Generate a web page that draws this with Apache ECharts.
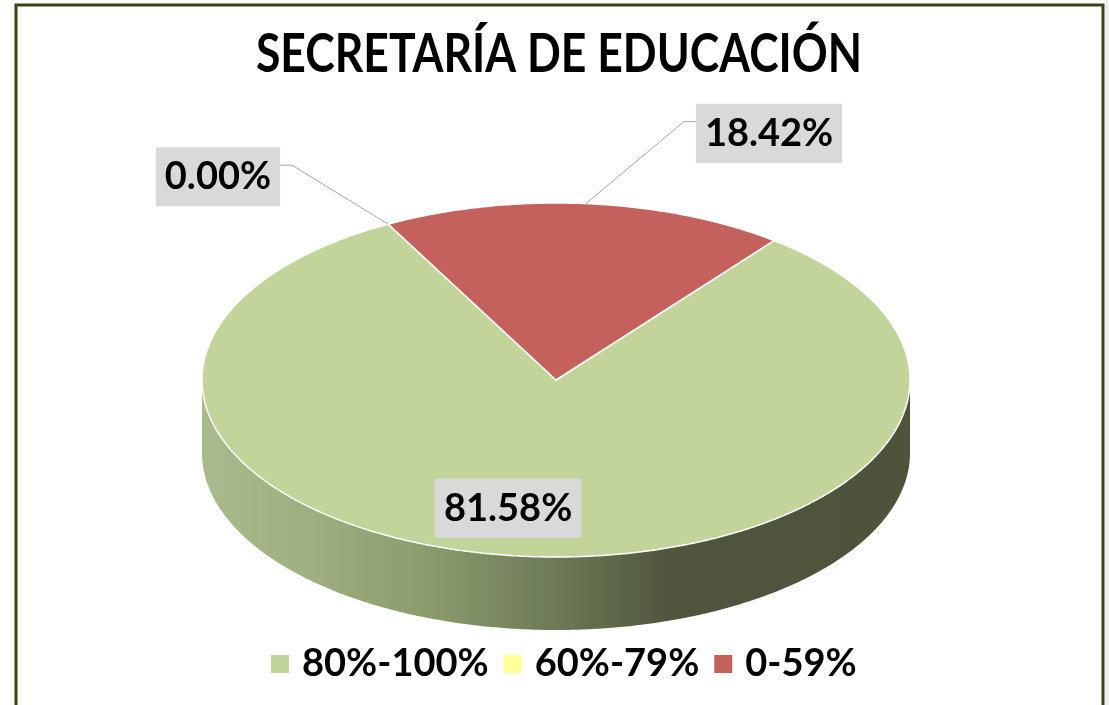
<!DOCTYPE html>
<html><head><meta charset="utf-8">
<script src="https://cdn.jsdelivr.net/npm/echarts@6/dist/echarts.min.js"></script>
<style>html,body{margin:0;padding:0;background:#fff}#c{width:1109px;height:705px}</style>
</head><body><div id="c"></div>
<script>
// ---- data ----
const titleText = 'SECRETARÍA DE EDUCACIÓN';
const categories = ['80%-100%', '60%-79%', '0-59%'];
const percentages = [81.58, 0.00, 18.42];

// ---- styles / layout ----
const sliceColors = ['#c3d49b', '#ffff99', '#c4615d'];
const PIE = {cx: 556, cy: 380, rx: 354, ry: 177, depth: 73, startDeg: 38};
const labelLayout = [
  {mode: 'inside', dx: -18, dy: -48},
  {mode: 'left', dx: -108, dy: -77},
  {mode: 'right', dx: 110, dy: -100}
];
const FONT = 'Lato, "Open Sans", sans-serif';

function rimPoint(deg, drop) {
  const r = deg * Math.PI / 180;
  return [PIE.cx + PIE.rx * Math.sin(r), PIE.cy - PIE.ry * Math.cos(r) + (drop || 0)];
}

function renderSlice(params, api) {
  const i = params.seriesIndex;
  const v = api.value(0);
  const total = percentages.reduce((a, b) => a + b, 0);
  let cum = 0;
  for (let k = 0; k < i; k++) cum += percentages[k];
  const a0 = PIE.startDeg + 360 * cum / total;
  const a1 = a0 + 360 * v / total;
  const color = sliceColors[i];
  const children = [];

  // visible side wall (front half)
  [[90, 270], [450, 630]].forEach(([L, R]) => {
    const s = Math.max(a0, L), e = Math.min(a1, R);
    if (e > s) {
      const top = [], bot = [];
      for (let a = s; a < e; a += 0.5) { top.push(rimPoint(a, 0)); bot.push(rimPoint(a, PIE.depth)); }
      top.push(rimPoint(e, 0)); bot.push(rimPoint(e, PIE.depth));
      children.push({
        type: 'polygon', z2: 1,
        shape: {points: top.concat(bot.reverse())},
        style: {
          fill: {type: 'linear', x: PIE.cx - PIE.rx, y: 0, x2: PIE.cx + PIE.rx, y2: 0, global: true,
            colorStops: [
              {offset: 0, color: '#abba8c'},
              {offset: 0.15, color: '#a0af80'},
              {offset: 0.32, color: '#8c9b6c'},
              {offset: 0.5, color: '#6d7957'},
              {offset: 0.66, color: '#50563e'},
              {offset: 1, color: '#4e533c'}
            ]},
          stroke: null
        }
      });
    }
  });

  // top face
  if (a1 > a0) {
    const pts = [[PIE.cx, PIE.cy]];
    for (let a = a0; a < a1; a += 0.5) pts.push(rimPoint(a, 0));
    pts.push(rimPoint(a1, 0));
    children.push({
      type: 'polygon', z2: 5, shape: {points: pts},
      style: {fill: color, stroke: '#ffffff', lineWidth: 1.5, lineJoin: 'round'}
    });
  }

  // label
  const mid = (a0 + a1) / 2;
  const anchor = rimPoint(mid, 0);
  const lay = labelLayout[i];
  const textStyle = {
    text: v.toFixed(2) + '%',
    font: 'bold 38px ' + FONT,
    fill: '#000', backgroundColor: '#d9d9d9',
    padding: [7, 9, 6, 9], lineHeight: 46
  };
  if (lay.mode === 'inside') {
    children.push({type: 'text', z2: 20, x: anchor[0] + lay.dx, y: anchor[1] + lay.dy,
      style: Object.assign({align: 'center', verticalAlign: 'middle'}, textStyle)});
  } else if (lay.mode === 'right') {
    const bx = anchor[0] + lay.dx, by = anchor[1] + lay.dy;
    children.push({type: 'polyline', z2: 15,
      shape: {points: [anchor, [bx - 12, by + 18], [bx, by + 18]]},
      style: {stroke: '#a6a6a6', lineWidth: 1, fill: null}});
    children.push({type: 'text', z2: 20, x: bx, y: by,
      style: Object.assign({align: 'left', verticalAlign: 'top'}, textStyle)});
  } else {
    const bx = anchor[0] + lay.dx, by = anchor[1] + lay.dy;
    children.push({type: 'polyline', z2: 15,
      shape: {points: [anchor, [bx + 12, by + 18], [bx, by + 18]]},
      style: {stroke: '#a6a6a6', lineWidth: 1, fill: null}});
    children.push({type: 'text', z2: 20, x: bx, y: by,
      style: Object.assign({align: 'right', verticalAlign: 'top'}, textStyle)});
  }
  return {type: 'group', children: children};
}

const chart = echarts.init(document.getElementById('c'), null, {renderer: 'canvas'});
chart.setOption({
  backgroundColor: '#ffffff',
  animation: false,
  legend: {
    data: categories, left: 266, top: 640,
    icon: 'rect', itemWidth: 18, itemHeight: 18, itemGap: 15,
    textStyle: {fontFamily: FONT, fontWeight: 'bold', fontSize: 38, color: '#000', padding: [0, 0, 0, 8]}
  },
  graphic: [
    {type: 'text', x: 559, y: 28, scaleX: 0.84, z: 50,
      style: {text: titleText, font: 'bold 53px ' + FONT, fill: '#000', align: 'center', verticalAlign: 'top'}},
    {type: 'rect', shape: {x: 16, y: 5, width: 1087, height: 720},
      style: {fill: null, stroke: '#3d4214', lineWidth: 3}, z: 100},
    {type: 'rect', shape: {x: 1105, y: 0, width: 4, height: 705},
      style: {fill: '#eeeeee'}, z: 100}
  ],
  series: categories.map((name, i) => ({
    type: 'custom', name: name, coordinateSystem: 'none',
    itemStyle: {color: sliceColors[i]},
    renderItem: renderSlice,
    data: [[percentages[i]]]
  }))
});
</script></body></html>
